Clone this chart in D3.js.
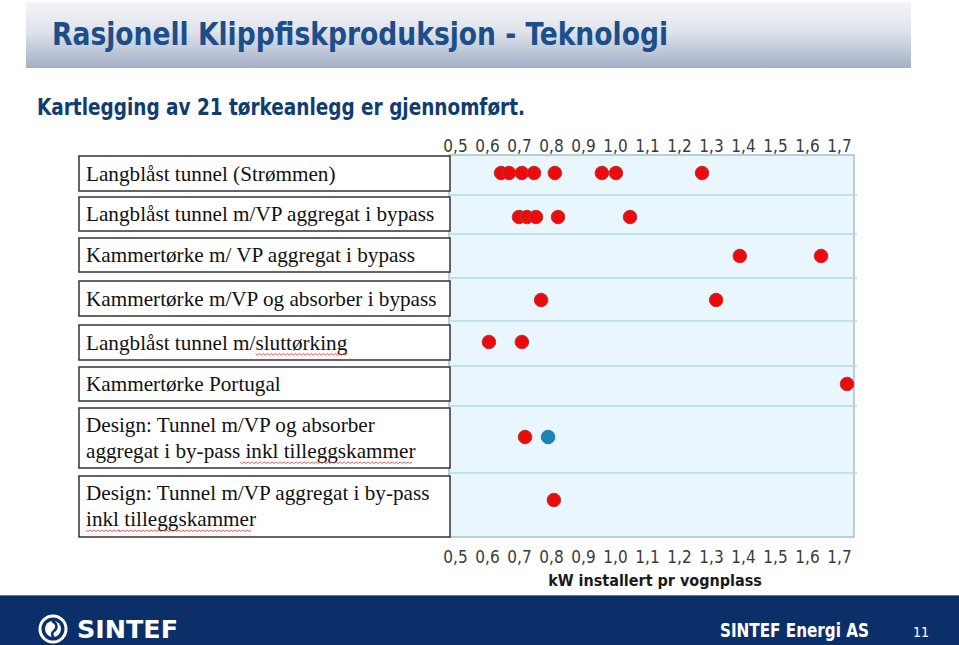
<!DOCTYPE html>
<html lang="no">
<head>
<meta charset="UTF-8">
<title>Rasjonell Klippfiskproduksjon - Teknologi</title>
<script src="https://cdn.jsdelivr.net/npm/d3@7"></script>
<style>
  body { margin: 0; background: #fff; }
  svg { display: block; }
</style>
</head>
<body>
<svg id="chart" width="959" height="645"></svg>
<script>
// data
var categories = [
  ["Langblåst tunnel (Strømmen)"],
  ["Langblåst tunnel m/VP aggregat i bypass"],
  ["Kammertørke m/ VP aggregat i bypass"],
  ["Kammertørke m/VP og absorber i bypass"],
  ["Langblåst tunnel m/sluttørking"],
  ["Kammertørke Portugal"],
  ["Design: Tunnel m/VP og absorber", "aggregat i by-pass inkl tilleggskammer"],
  ["Design: Tunnel m/VP aggregat i by-pass", "inkl tilleggskammer"]
];
var measured = [
  [0.644, 0.669, 0.709, 0.747, 0.812, 0.959, 1.003, 1.272],
  [0.700, 0.725, 0.753, 0.822, 1.047],
  [1.390, 1.644],
  [0.769, 1.316],
  [0.606, 0.709],
  [1.725],
  [0.719],
  [0.809]
];
var designExtra = [[], [], [], [], [], [], [0.791], []];
var ticks = [0.5, 0.6, 0.7, 0.8, 0.9, 1.0, 1.1, 1.2, 1.3, 1.4, 1.5, 1.6, 1.7];
var squiggles = [[], [], [], [], ["sluttørking"], [], ["inkl tilleggskammer"], ["inkl", "tilleggskammer"]];

// layout
var rowEdges = [155, 195, 234, 278, 321, 366, 406, 473, 537];
var boxes = [[156,191],[197,231],[238,272],[281,316],[325,360],[367,401],[408,468],[476,537]];
var dotY = [173, 217, 256, 300, 342, 384, 437, 500];
var plotL = 449, plotR = 854;
var serif = "'Liberation Serif', 'Times New Roman', serif";
var sans = "'DejaVu Sans Condensed', 'DejaVu Sans'";

var svg = d3.select("#chart");
var defs = svg.append("defs");
var grad = defs.append("linearGradient").attr("id", "banner").attr("x1", 0).attr("y1", 0).attr("x2", 0).attr("y2", 1);
grad.append("stop").attr("offset", "0%").attr("stop-color", "#f4f5f8");
grad.append("stop").attr("offset", "45%").attr("stop-color", "#dfe3ea");
grad.append("stop").attr("offset", "100%").attr("stop-color", "#a3afc6");

// header
svg.append("rect").attr("x", 26).attr("y", 2).attr("width", 885).attr("height", 66).attr("fill", "url(#banner)");
svg.append("text").attr("x", 52).attr("y", 45)
  .attr("font-family", sans).attr("font-weight", "bold")
  .attr("font-size", 32).attr("fill", "#1c4f8a")
  .attr("textLength", 616).attr("lengthAdjust", "spacingAndGlyphs")
  .text("Rasjonell Klippfiskproduksjon - Teknologi");
svg.append("text").attr("x", 37).attr("y", 115)
  .attr("font-family", sans).attr("font-weight", "bold")
  .attr("font-size", 23).attr("fill", "#103c70")
  .attr("textLength", 488).attr("lengthAdjust", "spacingAndGlyphs")
  .text("Kartlegging av 21 tørkeanlegg er gjennomført.");

// scales
var x = d3.scaleLinear().domain([0.5, 1.7]).range([455, 839]);

// plot area
svg.append("rect").attr("x", plotL).attr("y", rowEdges[0])
  .attr("width", plotR - plotL).attr("height", rowEdges[rowEdges.length - 1] - rowEdges[0])
  .attr("fill", "#eaf6fd").attr("stroke", "#8db5c2").attr("stroke-width", 1.2);
svg.append("g").selectAll("line").data(rowEdges.slice(1, -1)).join("line")
  .attr("x1", plotL).attr("x2", plotR + 3).attr("y1", d => d).attr("y2", d => d)
  .attr("stroke", "#b2d9e4").attr("stroke-width", 1.3);

// label boxes
var lab = svg.append("g");
categories.forEach(function (lines, i) {
  var b = boxes[i];
  lab.append("rect").attr("x", 79).attr("y", b[0]).attr("width", 371).attr("height", b[1] - b[0])
    .attr("fill", "#fff").attr("stroke", "#333").attr("stroke-width", 1.5);
  var t = lab.append("text").attr("font-family", serif)
    .attr("font-size", 21.2).attr("fill", "#111");
  var base = lines.length === 1 ? (b[0] + b[1]) / 2 + 7 : b[0] + 24;
  lines.forEach(function (ln, j) {
    t.append("tspan").attr("x", 86).attr("y", base + j * 26).text(ln);
  });
  // spell-check squiggles
  squiggles[i].forEach(function (word) {
    lines.forEach(function (ln, j) {
      var k = ln.indexOf(word);
      if (k < 0) return;
      var tmp = lab.append("text").attr("font-family", serif)
        .attr("font-size", 21.2).attr("x", 86).attr("y", -100).text(ln.slice(0, k));
      var x0 = 86 + tmp.node().getComputedTextLength();
      tmp.text(word);
      var w = tmp.node().getComputedTextLength();
      tmp.remove();
      var yy = base + j * 26 + 4, p = "M" + x0 + "," + yy;
      for (var s = 0; s < w; s += 2) p += "L" + (x0 + s + 2) + "," + (yy + ((s / 2) % 2 === 0 ? 1.5 : 0));
      lab.append("path").attr("d", p).attr("fill", "none").attr("stroke", "#e03030").attr("stroke-width", 0.8);
    });
  });
});

// axes (labels only)
var fmt = d => d.toFixed(1).replace(".", ",");
[146, 557].forEach(function (yy) {
  svg.append("g").attr("transform", "translate(0," + yy + ")")
    .call(d3.axisTop(x).tickValues(ticks).tickFormat(fmt).tickSize(0).tickPadding(0))
    .call(g => g.select(".domain").remove())
    .selectAll("text").attr("dy", "0.35em")
    .attr("font-family", sans).attr("font-size", 17).attr("fill", "#3a3a3a");
});
svg.append("text").attr("x", 655).attr("y", 586).attr("text-anchor", "middle")
  .attr("font-family", sans).attr("font-weight", "bold")
  .attr("font-size", 16).attr("fill", "#1a1a1a")
  .text("kW installert pr vognplass");

// dots
var pts = [];
measured.forEach((vals, i) => vals.forEach(v => pts.push({ v: v, row: i, c: "red" })));
designExtra.forEach((vals, i) => vals.forEach(v => pts.push({ v: v, row: i, c: "blue" })));
svg.append("g").selectAll("circle").data(pts).join("circle")
  .attr("cx", d => x(d.v)).attr("cy", d => dotY[d.row]).attr("r", 6.8)
  .attr("fill", d => d.c === "red" ? "#ee0a0a" : "#1b84b6")
  .attr("stroke", d => d.c === "red" ? "#b23a3a" : "#1b84b6").attr("stroke-width", 1);

// footer
svg.append("rect").attr("x", 0).attr("y", 596).attr("width", 959).attr("height", 49).attr("fill", "#0b2f69");
svg.append("line").attr("x1", 0).attr("x2", 959).attr("y1", 595.5).attr("y2", 595.5).attr("stroke", "#5d7aa6");
var logo = svg.append("g").attr("transform", "translate(53,629)");
logo.append("circle").attr("r", 13).attr("fill", "none").attr("stroke", "#fff").attr("stroke-width", 3);
logo.append("circle").attr("r", 8).attr("fill", "#fff");
logo.append("path").attr("d", "M-1,-8 C4,-6 5,-1 1,2 C-2,4 -1,7 1,8").attr("fill", "none").attr("stroke", "#0b2f69").attr("stroke-width", 2.5);
svg.append("text").attr("x", 77).attr("y", 638)
  .attr("font-family", "'DejaVu Sans', sans-serif").attr("font-weight", "bold")
  .attr("font-size", 24).attr("fill", "#fff")
  .attr("textLength", 101).attr("lengthAdjust", "spacingAndGlyphs").text("SINTEF");
svg.append("text").attr("x", 720).attr("y", 637)
  .attr("font-family", sans).attr("font-weight", "bold").attr("font-size", 20).attr("fill", "#fff")
  .attr("textLength", 149).attr("lengthAdjust", "spacingAndGlyphs").text("SINTEF Energi AS");
svg.append("text").attr("x", 913).attr("y", 637)
  .attr("font-family", sans).attr("font-size", 14).attr("fill", "#fff")
  .text("11");
</script>
</body>
</html>
